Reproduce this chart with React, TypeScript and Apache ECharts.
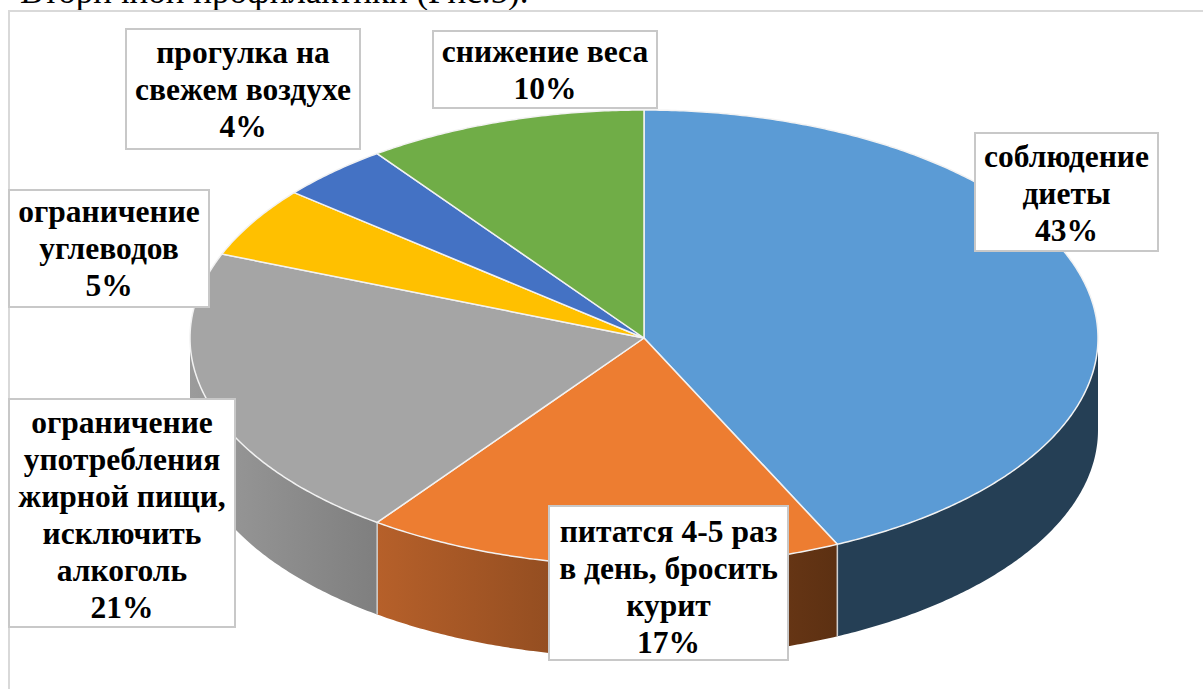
import React, { useEffect, useRef } from "react";
import * as echarts from "echarts";

const captionText = "Вторичной профилактики (Рис.5).";
const categories = [
  "соблюдение\nдиеты",
  "питатся 4-5 раз\nв день, бросить\nкурит",
  "ограничение\nупотребления\nжирной пищи,\nисключить\nалкоголь",
  "ограничение\nуглеводов",
  "прогулка на\nсвежем воздухе",
  "снижение веса",
];
const values = [43, 17, 21, 5, 4, 10];
const topColors = ["#5B9BD5", "#ED7D31", "#A5A5A5", "#FFC000", "#4472C4", "#70AD47"];
const wallColors: string[][] = [
  ["#253F55", "#253F55"],
  ["#B6602A", "#5C3012"],
  ["#9B9B9B", "#7F7F7F"],
  ["#7F7F7F", "#7F7F7F"],
  ["#2F4F88", "#2F4F88"],
  ["#4E7932", "#4E7932"],
];
const labelBoxes = [
  [975, 133, 183, 118, 0],
  [549, 506, 239, 154, 3],
  [9, 399, 226, 228, 1],
  [9, 190, 200, 117, -1],
  [126, 29, 234, 120, -1],
  [433, 31, 224, 77, -1],
];

const CX = 644;
const CY = 338;
const RX = 454;
const RY = 228;
const DEPTH = 92;
const TOTAL = values.reduce((a, b) => a + b, 0);
const starts: number[] = [];
values.reduce((acc, v, i) => ((starts[i] = acc), acc + v), 0);

const angleOf = (v: number) => (v / TOTAL) * 360;
const rimPoint = (deg: number, dy = 0): number[] => {
  const t = (deg * Math.PI) / 180;
  return [CX + RX * Math.sin(t), CY - RY * Math.cos(t) + dy];
};
const arc = (from: number, to: number, dy = 0): number[][] => {
  const pts: number[][] = [];
  const n = Math.max(2, Math.ceil((to - from) * 2));
  for (let i = 0; i <= n; i++) pts.push(rimPoint(from + ((to - from) * i) / n, dy));
  return pts;
};

function renderSlice(params: any, api: any) {
  const i = params.dataIndex;
  const a0 = angleOf(starts[i]);
  const a1 = angleOf(starts[i] + api.value(0));
  const children: any[] = [];
  const w0 = Math.max(a0, 90);
  const w1 = Math.min(a1, 270);
  if (w1 > w0) {
    const upper = arc(w0, w1);
    const lower = arc(w0, w1, DEPTH).reverse();
    children.push({
      type: "polygon",
      shape: { points: upper.concat(lower) },
      style: {
        fill: new echarts.graphic.LinearGradient(0, 0, 1, 0, [
          { offset: 0, color: wallColors[i][0] },
          { offset: 1, color: wallColors[i][1] },
        ]),
        stroke: "none",
      },
    });
    if (w1 < 270 || w0 > 90) {
      const edge = w0 > 90 ? w0 : w1;
      children.push({
        type: "line",
        shape: {
          x1: rimPoint(edge)[0],
          y1: rimPoint(edge)[1],
          x2: rimPoint(edge, DEPTH)[0],
          y2: rimPoint(edge, DEPTH)[1],
        },
        style: { stroke: "#D0D0D0", lineWidth: 1.5 },
      });
    }
  }
  children.push({
    type: "polygon",
    shape: { points: [[CX, CY]].concat(arc(a0, a1)) },
    style: { fill: topColors[i], stroke: "#F2F2F2", lineWidth: 1.5, lineJoin: "round" },
  });
  return { type: "group", children };
}

function renderLabel(params: any, api: any) {
  const i = params.dataIndex;
  const [x, y, w, h, nudge] = labelBoxes[i];
  return {
    type: "group",
    children: [
      {
        type: "rect",
        shape: { x, y, width: w, height: h },
        style: { fill: "#FFFFFF", stroke: "#C8C8C8", lineWidth: 2 },
      },
      {
        type: "text",
        style: {
          x: x + w / 2,
          y: y + h / 2 + 1 + nudge,
          text: `${categories[i]}\n${api.value(0)}%`,
          align: "center",
          verticalAlign: "middle",
          fontFamily: "Liberation Serif",
          fontWeight: "bold",
          fontSize: 31.5,
          lineHeight: 37,
          fill: "#000000",
        },
      },
    ],
  };
}

export default function App() {
  const ref = useRef<HTMLDivElement>(null);
  useEffect(() => {
    document.body.style.margin = "0";
    document.body.style.overflow = "hidden";
    const chart = echarts.init(ref.current!, null, { renderer: "svg" });
    chart.setOption({
      animation: false,
      backgroundColor: "#FFFFFF",
      graphic: [
        {
          type: "text",
          silent: true,
          style: {
            x: 20,
            y: -26,
            text: captionText,
            fontFamily: "Liberation Serif",
            fontSize: 35,
            fill: "#000000",
          },
        },
        {
          type: "polyline",
          silent: true,
          shape: { points: [[9, 689], [9, 11], [1203, 11]] },
          style: { fill: "none", stroke: "#D9D9D9", lineWidth: 2 },
        },
      ],
      series: [
        {
          type: "custom",
          coordinateSystem: "none",
          silent: true,
          z: 2,
          data: values.map((v) => [v]),
          renderItem: renderSlice,
        },
        {
          type: "custom",
          coordinateSystem: "none",
          silent: true,
          z: 3,
          data: values.map((v) => [v]),
          renderItem: renderLabel,
        },
      ],
    });
    return () => chart.dispose();
  }, []);
  return <div ref={ref} style={{ width: 1203, height: 689 }} />;
}
